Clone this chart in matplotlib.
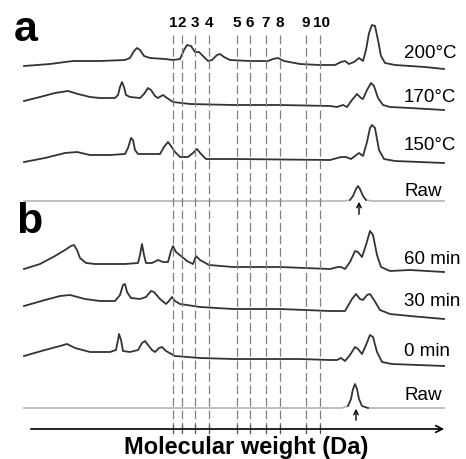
import numpy as np
import matplotlib
matplotlib.use("Agg")
import matplotlib.pyplot as plt

plt.rcParams['font.family'] = ['Liberation Sans', 'DejaVu Sans']

# Elution position (arbitrary units, left = high MW) and detector signal
x_200 = [0, 26, 49, 76, 101, 106, 110, 113, 116, 120, 126, 141, 149, 156, 160, 163, 167, 171, 175, 179, 184, 188,
         193, 196, 200, 206, 226, 244, 249, 254, 260, 276, 296, 311, 317, 321, 325, 330, 335, 339, 342, 345, 348,
         351, 354, 357, 361, 371, 386, 401, 420]
s_200 = [3, 5, 8, 8, 9, 11, 18, 21, 19, 13, 11, 10, 9, 10, 19, 24, 23, 17, 17, 13, 8, 9,
         14, 15, 12, 9, 8, 8, 10, 11, 8, 5, 4, 4, 7, 8, 5, 7, 11, 8, 19, 36, 44,
         43, 29, 13, 6, 4, 3, 2, 0]

x_170 = [0, 16, 31, 44, 54, 66, 76, 91, 94, 96, 98, 100, 102, 106, 116, 120, 124, 127, 131, 134, 139, 143,
         149, 166, 209, 256, 306, 313, 319, 323, 328, 333, 337, 339, 343, 347, 350, 354, 359, 366, 386, 420]
s_170 = [9, 13, 17, 19, 16, 13, 12, 12, 15, 23, 28, 23, 15, 13, 12, 16, 22, 20, 14, 12, 15, 12,
         8, 6, 5, 5, 4, 3, 5, 3, 10, 16, 12, 11, 20, 27, 24, 12, 5, 3, 2, 0]

x_150 = [0, 21, 41, 53, 66, 86, 101, 104, 107, 109, 111, 114, 126, 136, 140, 144, 147, 151, 156, 164, 169, 173,
         177, 182, 209, 306, 317, 322, 327, 331, 335, 339, 343, 346, 348, 351, 355, 360, 371, 420]
s_150 = [1, 5, 10, 11, 8, 8, 9, 15, 25, 23, 13, 9, 9, 9, 16, 21, 17, 11, 6, 6, 10, 14,
         9, 4, 4, 3, 6, 6, 4, 7, 10, 7, 21, 35, 38, 35, 13, 4, 2, 0]

x_raw_a = [0, 320, 326, 329, 332, 334, 336, 339, 342, 348, 420]
s_raw_a = [0, 0, 1, 5, 12, 15, 12, 5, 1, 0, 0]

x_60 = [0, 16, 31, 41, 47, 50, 53, 56, 62, 71, 101, 114, 116, 118, 120, 122, 128, 134, 139, 144, 147, 149,
        152, 157, 163, 169, 172, 176, 185, 209, 256, 306, 314, 317, 321, 326, 331, 334, 338, 342, 346, 349,
        353, 357, 366, 386, 420]
s_60 = [3, 8, 16, 22, 26, 27, 22, 14, 9, 8, 8, 9, 17, 28, 17, 9, 9, 12, 10, 10, 21, 26,
        20, 16, 11, 8, 16, 12, 7, 5, 5, 3, 5, 5, 3, 10, 21, 20, 15, 27, 41, 37,
        17, 5, 1, 2, 0]

x_30 = [0, 21, 36, 46, 61, 76, 91, 96, 99, 101, 103, 107, 116, 122, 127, 130, 136, 142, 145, 148, 151, 156,
        176, 209, 256, 306, 321, 328, 332, 336, 339, 343, 346, 350, 356, 366, 386, 420]
s_30 = [13, 19, 23, 24, 20, 18, 18, 24, 34, 35, 27, 21, 20, 22, 28, 27, 20, 15, 18, 22, 18, 15,
        12, 10, 10, 8, 8, 20, 25, 20, 19, 24, 25, 19, 9, 5, 3, 0]

x_0 = [0, 21, 36, 43, 51, 66, 86, 92, 94, 95, 97, 99, 106, 114, 118, 121, 124, 128, 131, 135, 138, 142,
       151, 176, 209, 276, 306, 313, 317, 321, 326, 331, 334, 338, 342, 346, 349, 353, 358, 368, 420]
s_0 = [10, 16, 20, 22, 18, 14, 14, 16, 26, 32, 26, 15, 14, 16, 23, 25, 21, 16, 14, 18, 19, 15,
       10, 8, 7, 7, 6, 6, 8, 5, 11, 19, 17, 12, 21, 31, 29, 14, 4, 2, 0]

x_raw_b = [0, 318, 324, 327, 329, 331, 333, 335, 338, 344, 420]
s_raw_b = [0, 0, 2, 9, 19, 24, 19, 9, 2, 0, 0]

fractions = ['1', '2', '3', '4', '5', '6', '7', '8', '9', '10']
frac_pos = [149, 158, 171, 185, 213, 226, 242, 256, 282, 296]

labels_a = ['200°C', '170°C', '150°C', 'Raw']
labels_b = ['60 min', '30 min', '0 min', 'Raw']

fig = plt.figure(figsize=(4.66, 4.59), dpi=100)
ax = fig.add_axes([0, 0, 1, 1])
ax.set_xlim(-24, 442)
ax.set_ylim(459, 0)
ax.axis('off')

dark = '#333333'
light = '#b4b4b4'

# (x, signal, baseline)
traces = [(x_200, s_200, 69), (x_170, s_170, 110), (x_150, s_150, 163),
          (x_60, s_60, 272), (x_30, s_30, 319), (x_0, s_0, 366)]
for xs, ss, base in traces:
    ax.plot(xs, base - np.array(ss), color=dark, lw=1.3, solid_joinstyle='round')

for xs, ss, base, arrow_y in [(x_raw_a, s_raw_a, 201, 217), (x_raw_b, s_raw_b, 408, 423)]:
    xs = np.array(xs)
    ys = base - np.array(ss)
    ax.plot(xs, ys, color=light, lw=1.2)
    m = (xs >= 322) & (xs <= 345)
    ax.plot(xs[m], ys[m], color=dark, lw=1.2)
    peak = xs[np.argmax(ss)]
    ax.annotate('', xy=(peak + 1, base - 2), xytext=(peak + 1, arrow_y),
                arrowprops=dict(arrowstyle='->', color='black', lw=1.0, mutation_scale=8))

# fraction cut lines
for p, lab in zip(frac_pos, fractions):
    ax.plot([p, p], [35, 429], color='#808080', lw=0.9, ls=(0, (7, 3)))
    ax.plot([p, p], [425, 433], color='#555555', lw=0.9)
    ax.text(p + (2 if lab == '10' else 0), 23, lab, ha='center', va='center', fontsize=11,
            fontweight='bold')

# axis with arrow
ax.annotate('', xy=(423, 429), xytext=(4, 429),
            arrowprops=dict(arrowstyle='->', color='black', lw=1.2, mutation_scale=12))

for lab, yy in zip(labels_a, [53, 97, 145, 191]):
    ax.text(380, yy, lab, ha='left', va='center', fontsize=13.5)
for lab, yy in zip(labels_b, [259, 301, 351, 395]):
    ax.text(380, yy, lab, ha='left', va='center', fontsize=13.5)

ax.text(-10, 30, 'a', ha='left', va='center', fontsize=31, fontweight='bold')
ax.text(-8, 222, 'b', ha='left', va='center', fontsize=31, fontweight='bold')

ax.text(222, 454, 'Molecular weight (Da)', ha='center', va='baseline', fontsize=17, fontweight='bold')

fig.savefig('out.png', dpi=100)
